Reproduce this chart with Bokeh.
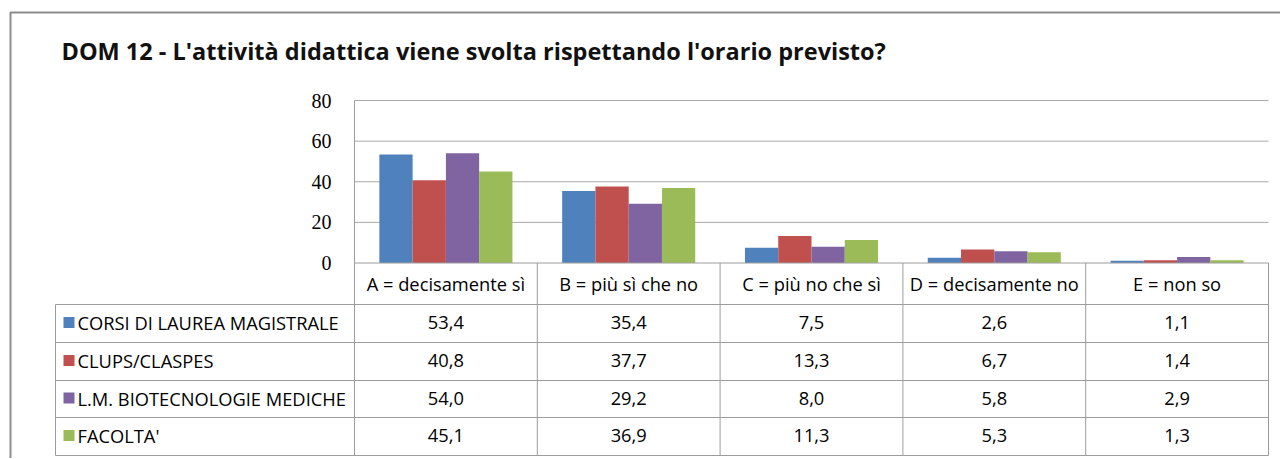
from bokeh.plotting import figure
from bokeh.models import Range1d, ColumnDataSource
from bokeh.core.properties import value
from bokeh.embed import file_html
from bokeh.resources import INLINE

# ---------------- data ----------------
title = "DOM 12 - L'attività didattica viene svolta rispettando l'orario previsto?"
categories = ["A = decisamente sì", "B = più sì che no", "C = più no che sì",
              "D = decisamente no", "E = non so"]
series_names = ["CORSI DI LAUREA MAGISTRALE", "CLUPS/CLASPES",
                "L.M. BIOTECNOLOGIE MEDICHE", "FACOLTA'"]
corsi = [53.4, 35.4, 7.5, 2.6, 1.1]
clups = [40.8, 37.7, 13.3, 6.7, 1.4]
lm_bio = [54.0, 29.2, 8.0, 5.8, 2.9]
facolta = [45.1, 36.9, 11.3, 5.3, 1.3]
y_ticks = [0, 20, 40, 60, 80]

series_values = [corsi, clups, lm_bio, facolta]
colors = ["#4F81BD", "#C0504D", "#8064A2", "#9BBB59"]

# ---------------- geometry ----------------
W, H = 1280, 458
OFF = 0  # figure is placed at the page origin


def P(v):
    return v - OFF


n = len(categories)
left_px, right_px = P(354), P(1268)
upp = n / (right_px - left_px)
y0_px, y80_px = P(262.5), P(100)
ppu = (y0_px - y80_px) / 80.0

p = figure(width=W, height=H, output_backend="svg", toolbar_location=None,
           x_range=Range1d(-left_px * upp, (W - left_px) * upp),
           y_range=Range1d(-(H - y0_px) / ppu, y0_px / ppu),
           x_axis_type=None, y_axis_type=None, title=None,
           min_border=0, outline_line_color=None)
p.xgrid.visible = False
p.ygrid.visible = False
p.extra_x_ranges = {"px": Range1d(0, W)}
p.extra_y_ranges = {"py": Range1d(H, 0)}
p.background_fill_color = "white"
p.border_fill_color = "white"

FONT = value("Open Sans")
TSIZE = "18.3px"
grid_col = "#a8a8a8"
tab_col = "#9c9c9c"

# outer frame
p.line(x=[P(10), P(10), W], y=[H, P(12), P(12)], x_range_name="px",
       y_range_name="py", line_color="#8c8c8c", line_width=2)

# title
p.text(x=[P(61)], y=[P(50)], text=[title], x_range_name="px", y_range_name="py",
       text_font=FONT, text_font_style="bold", text_font_size="23.5px",
       text_color="#111111", text_baseline="middle", text_align="left")

# gridlines
gy = [t for t in y_ticks if t > 0]
p.segment(x0=[0] * len(gy), x1=[n] * len(gy), y0=gy, y1=gy,
          line_color=grid_col, line_width=1)

# y tick labels
p.text(x=[P(331)] * len(y_ticks), y=y_ticks, text=[str(t) for t in y_ticks],
       x_range_name="px", text_font=value("Liberation Serif"),
       text_font_size="20px", text_align="right", text_baseline="middle",
       text_color="#000000")

# bars
bw = 0.182
for k, (vals, col) in enumerate(zip(series_values, colors)):
    xs = [i + 0.5 + (k - 1.5) * bw for i in range(n)]
    src = ColumnDataSource(dict(x=xs, top=vals))
    p.vbar(x="x", top="top", bottom=0, width=bw, source=src,
           fill_color=col, line_color=None)

# table lines
row_edges = [P(304), P(342), P(380), P(417), P(455)]
p.segment(x0=[0], x1=[n], y0=[0], y1=[0], line_color=tab_col, line_width=1)
p.segment(x0=[P(55)] * len(row_edges), x1=[right_px] * len(row_edges),
          y0=row_edges, y1=row_edges, x_range_name="px", y_range_name="py",
          line_color=tab_col, line_width=1)
# axis / column verticals
p.segment(x0=[0], x1=[0], y0=[80], y1=[0], line_color=tab_col, line_width=1)
p.segment(x0=list(range(n + 1)), x1=list(range(n + 1)),
          y0=[P(262.5)] * (n + 1), y1=[P(455)] * (n + 1),
          y_range_name="py", line_color=tab_col, line_width=1)
p.segment(x0=[P(55)], x1=[P(55)], y0=[P(304)], y1=[P(455)],
          x_range_name="px", y_range_name="py", line_color=tab_col, line_width=1)

# header labels
p.text(x=[i + 0.5 for i in range(n)], y=[P(283)] * n, text=categories,
       y_range_name="py", text_font=FONT, text_font_size=TSIZE,
       text_align="center", text_baseline="middle", text_color="#000000")

# legend rows + values
row_centers = [(row_edges[i] + row_edges[i + 1]) / 2 - 1 for i in range(4)]
p.rect(x=[P(68.5)] * 4, y=row_centers, width=11, height=11, x_range_name="px",
       y_range_name="py", fill_color=colors, line_color=None)
p.text(x=[P(77)] * 4, y=row_centers, text=series_names, x_range_name="px",
       y_range_name="py", text_font=FONT, text_font_size=TSIZE,
       text_align="left", text_baseline="middle", text_color="#000000")
for r, vals in enumerate(series_values):
    labels = [f"{v:.1f}".replace(".", ",") for v in vals]
    p.text(x=[i + 0.5 for i in range(n)], y=[row_centers[r]] * n, text=labels,
           y_range_name="py", text_font=FONT, text_font_size=TSIZE,
           text_align="center", text_baseline="middle", text_color="#000000")

open("out.html", "w").write(file_html(p, INLINE))
